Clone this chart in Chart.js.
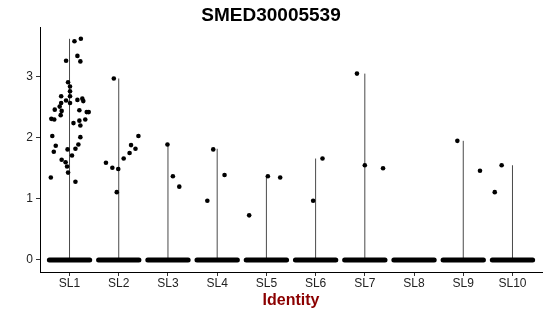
<!DOCTYPE html>
<html>
<head>
<meta charset="utf-8">
<script src="https://cdn.jsdelivr.net/npm/chart.js@4.4.1/dist/chart.umd.min.js"></script>
<style>
  html, body { margin: 0; padding: 0; background: #fff; }
  #wrap { width: 550px; height: 316px; }
</style>
</head>
<body>
<div id="wrap"><canvas id="vln"></canvas></div>
<script>
// Identities (clusters) on the x axis
const categories = ['SL1', 'SL2', 'SL3', 'SL4', 'SL5', 'SL6', 'SL7', 'SL8', 'SL9', 'SL10'];
const yTicks = [0, 1, 2, 3];

// top of each (very thin) violin, 0 = no violin drawn
const violinTop = [3.62, 2.97, 1.89, 1.82, 1.38, 1.66, 3.05, 0, 1.95, 1.55];

// non-zero cells: identity index, horizontal jitter (in category units), expression
const pointGroup = [
  0, 0, 0, 0, 0, 0, 0, 0, 0, 0, 0, 0, 0, 0, 0, 0, 0, 0, 0, 0, 0,
  0, 0, 0, 0, 0, 0, 0, 0, 0, 0, 0, 0, 0, 0, 0, 0, 0, 0, 0, 0, 0, 0,
  1, 1, 1, 1, 1, 1, 1, 1, 1, 1,
  2, 2, 2,
  3, 3, 3,
  4, 4, 4,
  5, 5,
  6, 6, 6,
  8, 8,
  9, 9
];
const pointJitter = [
  0.23, 0.10, 0.16, 0.22, -0.07, -0.03, 0.01, 0.01, 0.01, -0.17, -0.07, 0.01, -0.17, 0.16, 0.26, 0.28, -0.20, -0.30, -0.16, 0.20, 0.35,
  0.39, -0.18, -0.37, -0.31, 0.20, 0.32, 0.08, 0.22, -0.35, 0.22, -0.28, 0.18, -0.32, -0.04, 0.12, 0.05, -0.16, -0.08, -0.05, -0.03, -0.38, 0.12,
  -0.10, -0.26, -0.13, -0.01, -0.04, 0.10, 0.22, 0.25, 0.34, 0.40,
  -0.01, 0.10, 0.23,
  -0.08, 0.15, -0.20,
  -0.35, 0.03, 0.28,
  0.14, -0.05,
  -0.16, 0.00, 0.37,
  -0.12, 0.34,
  -0.22, -0.36
];
const pointValue = [
  3.62, 3.58, 3.34, 3.25, 3.26, 2.91, 2.84, 2.76, 2.68, 2.68, 2.61, 2.57, 2.57, 2.62, 2.64, 2.60, 2.51, 2.46, 2.44, 2.45, 2.42,
  2.42, 2.37, 2.31, 2.30, 2.28, 2.30, 2.24, 2.20, 2.03, 2.01, 1.87, 1.89, 1.77, 1.81, 1.82, 1.71, 1.64, 1.60, 1.53, 1.43, 1.35, 1.28,
  2.97, 1.59, 1.51, 1.49, 1.11, 1.66, 1.75, 1.88, 1.82, 2.03,
  1.89, 1.37, 1.20,
  1.81, 1.39, 0.97,
  0.73, 1.37, 1.35,
  1.66, 0.97,
  3.05, 1.55, 1.50,
  1.95, 1.46,
  1.55, 1.11
];

const jitterWidth = 0.41;
const FONT = "'Liberation Sans', Arial, sans-serif";

const datasets = [];

// the mass of zero-expression cells, drawn as a solid jittered band
categories.forEach((c, i) => {
  datasets.push({
    type: 'line',
    data: [{ x: i + 1 - jitterWidth, y: 0 }, { x: i + 1 + jitterWidth, y: 0 }],
    borderColor: '#000',
    borderWidth: 5,
    borderCapStyle: 'round',
    pointRadius: 0,
    order: 1
  });
});

// violins collapse to a vertical line
violinTop.forEach((top, i) => {
  if (top <= 0) return;
  datasets.push({
    type: 'line',
    data: [{ x: i + 1, y: 0 }, { x: i + 1, y: top }],
    borderColor: '#4a4a4a',
    borderWidth: 1,
    pointRadius: 0,
    order: 2
  });
});

datasets.push({
  type: 'scatter',
  data: pointValue.map((v, k) => ({ x: pointGroup[k] + 1 + pointJitter[k], y: v })),
  backgroundColor: '#000',
  borderColor: '#000',
  borderWidth: 0,
  pointRadius: 2.3,
  order: 0
});

const ctx = document.getElementById('vln').getContext('2d');
new Chart(ctx, {
  type: 'scatter',
  data: { datasets: datasets },
  options: {
    responsive: true,
    maintainAspectRatio: false,
    animation: false,
    layout: { padding: { left: 0, right: 8, top: 0, bottom: 0 } },
    plugins: {
      legend: { display: false },
      tooltip: { enabled: false },
      title: {
        display: true,
        text: 'SMED30005539',
        color: '#000',
        font: { family: FONT, size: 19, weight: 'bold' },
        padding: { top: 4, bottom: 1 }
      }
    },
    scales: {
      x: {
        type: 'linear',
        min: 0.4,
        max: 10.6,
        afterBuildTicks: s => { s.ticks = categories.map((c, i) => ({ value: i + 1 })); },
        afterFit: s => { s.height = 44; },
        border: { display: true, color: '#000', width: 1 },
        grid: { display: true, drawOnChartArea: false, drawTicks: true, tickLength: 4, color: '#333' },
        ticks: {
          autoSkip: false,
          maxRotation: 0,
          padding: 0,
          color: '#222',
          font: { family: FONT, size: 12 },
          callback: v => categories[v - 1]
        },
        title: {
          display: true,
          text: 'Identity',
          color: '#8B0000',
          font: { family: FONT, size: 16, weight: 'bold' },
          padding: { top: 0, bottom: 6 }
        }
      },
      y: {
        type: 'linear',
        min: -0.197,
        max: 3.8,
        afterBuildTicks: s => { s.ticks = yTicks.map(v => ({ value: v })); },
        afterFit: s => { s.width = 40; },
        border: { display: true, color: '#000', width: 1 },
        grid: { display: true, drawOnChartArea: false, drawTicks: true, tickLength: 4, color: '#333' },
        ticks: {
          padding: 3,
          color: '#222',
          font: { family: FONT, size: 12 }
        }
      }
    }
  }
});
</script>
</body>
</html>
